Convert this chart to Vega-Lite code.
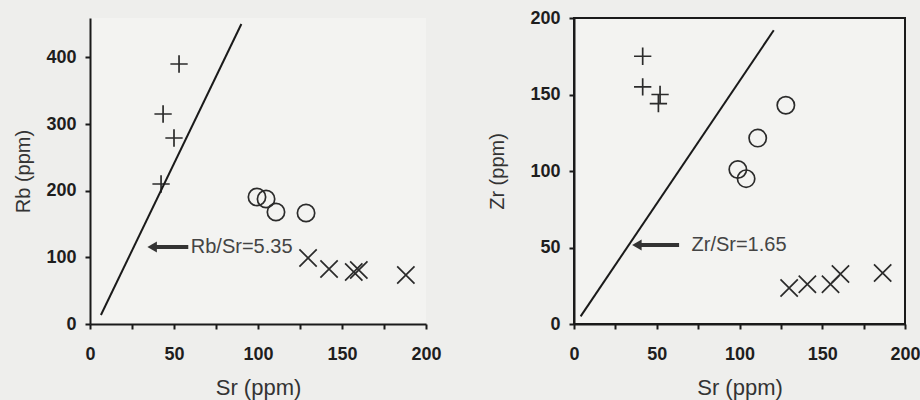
{
  "$schema": "https://vega.github.io/schema/vega-lite/v6.json",
  "background": "#eeeeec",
  "padding": {"left": 13, "top": 8, "right": 0, "bottom": 2},
  "bounds": "flush",
  "spacing": 148,
  "datasets": {
    "rb": [
      {"sr": 53, "rb": 390, "group": "G1"},
      {"sr": 43.5, "rb": 315, "group": "G1"},
      {"sr": 50, "rb": 279, "group": "G1"},
      {"sr": 42.3, "rb": 210, "group": "G1"},
      {"sr": 99.4, "rb": 190.5, "group": "G2"},
      {"sr": 104.8, "rb": 187.5, "group": "G2"},
      {"sr": 110.7, "rb": 168, "group": "G2"},
      {"sr": 128.6, "rb": 166.5, "group": "G2"},
      {"sr": 129.8, "rb": 99, "group": "G3"},
      {"sr": 142.3, "rb": 82.5, "group": "G3"},
      {"sr": 157, "rb": 78, "group": "G3"},
      {"sr": 160, "rb": 81, "group": "G3"},
      {"sr": 188, "rb": 73.5, "group": "G3"}
    ],
    "zr": [
      {"sr": 41.5, "zr": 175, "group": "G1"},
      {"sr": 41.5, "zr": 155, "group": "G1"},
      {"sr": 52, "zr": 150, "group": "G1"},
      {"sr": 51, "zr": 144, "group": "G1"},
      {"sr": 128, "zr": 143, "group": "G2"},
      {"sr": 111, "zr": 121.5, "group": "G2"},
      {"sr": 99, "zr": 101, "group": "G2"},
      {"sr": 104, "zr": 95, "group": "G2"},
      {"sr": 130, "zr": 23.5, "group": "G3"},
      {"sr": 141, "zr": 26, "group": "G3"},
      {"sr": 155, "zr": 26, "group": "G3"},
      {"sr": 161, "zr": 32.7, "group": "G3"},
      {"sr": 186.5, "zr": 33.3, "group": "G3"}
    ],
    "rbline": [{"sr": 6.5, "rb": 13.5}, {"sr": 90.1, "rb": 450}],
    "zrline": [{"sr": 4, "zr": 5}, {"sr": 120.7, "zr": 192}],
    "rbnote": [{"sr": 37, "sr2": 58.5, "rb": 115.5, "text_x": 60, "label": "Rb/Sr=5.35"}],
    "zrnote": [{"sr": 38, "sr2": 63.5, "zr": 51.6, "text_x": 71, "label": "Zr/Sr=1.65"}]
  },
  "config": {
    "view": {"fill": "#f3f3f1"},
    "axis": {
      "grid": false,
      "domainColor": "#1a1a1a",
      "domainWidth": 2,
      "tickColor": "#1a1a1a",
      "tickWidth": 2,
      "tickSize": 5,
      "labelFlush": false,
      "labelFont": "Liberation Sans",
      "labelFontWeight": "bold",
      "labelFontSize": 18,
      "labelColor": "#1e1e1e",
      "titleFont": "Liberation Sans",
      "titleFontWeight": "normal",
      "titleFontSize": 20,
      "titleColor": "#333333"
    },
    "axisY": {"labelPadding": 9, "titlePadding": 12},
    "axisX": {"labelPadding": 16, "titlePadding": 14, "titleFontSize": 22}
  },
  "hconcat": [
    {
      "width": 336,
      "height": 306,
      "view": {"stroke": null},
      "layer": [
        {
          "data": {"name": "rb"},
          "mark": {"type": "point", "filled": false, "size": 300, "strokeWidth": 1.7, "opacity": 1, "color": "#2b2b2b"},
          "encoding": {
            "x": {"field": "sr", "type": "quantitative", "title": "Sr (ppm)",
                  "scale": {"domain": [0, 200], "nice": false, "zero": false},
                  "axis": {"values": [0, 25, 50, 75, 100, 125, 150, 175, 200], "labelExpr": "datum.value % 50 === 0 ? datum.label : ''"}},
            "y": {"field": "rb", "type": "quantitative", "title": "Rb (ppm)",
                  "scale": {"domain": [0, 459], "nice": false},
                  "axis": {"values": [0, 50, 100, 150, 200, 250, 300, 350, 400], "labelExpr": "datum.value % 100 === 0 ? datum.label : ''"}},
            "shape": {"field": "group", "type": "nominal", "legend": null,
                      "scale": {"domain": ["G1", "G2", "G3"], "range": ["M-1,0L1,0M0,-1L0,1", "M1,0A1,1 0 1,1 -1,0A1,1 0 1,1 1,0Z", "M-1,-1L1,1M-1,1L1,-1"]}}
          }
        },
        {
          "data": {"name": "rbline"},
          "mark": {"type": "line", "color": "#1a1a1a", "strokeWidth": 2},
          "encoding": {"x": {"field": "sr", "type": "quantitative"}, "y": {"field": "rb", "type": "quantitative"}}
        },
        {
          "data": {"name": "rbnote"},
          "mark": {"type": "rule", "color": "#333333", "strokeWidth": 4},
          "encoding": {"x": {"field": "sr", "type": "quantitative"}, "x2": {"field": "sr2"}, "y": {"field": "rb", "type": "quantitative"}}
        },
        {
          "data": {"name": "rbnote"},
          "mark": {"type": "point", "shape": "triangle-left", "filled": true, "size": 120, "color": "#333333", "opacity": 1},
          "encoding": {"x": {"field": "sr", "type": "quantitative"}, "y": {"field": "rb", "type": "quantitative"}}
        },
        {
          "data": {"name": "rbnote"},
          "mark": {"type": "text", "align": "left", "baseline": "middle", "font": "Liberation Sans", "fontSize": 20, "color": "#444444"},
          "encoding": {"x": {"field": "text_x", "type": "quantitative"}, "y": {"field": "rb", "type": "quantitative"}, "text": {"field": "label"}}
        },
        {
          "mark": {"type": "rule", "color": "#1a1a1a", "strokeWidth": 2},
          "encoding": {"y": {"datum": 450, "type": "quantitative"}}
        },
        {
          "mark": {"type": "rule", "color": "#1a1a1a", "strokeWidth": 2},
          "encoding": {"x": {"datum": 200, "type": "quantitative"}, "y": {"datum": 0, "type": "quantitative"}, "y2": {"datum": 450}}
        }
      ]
    },
    {
      "width": 331,
      "height": 306,
      "view": {"stroke": "#1a1a1a", "strokeWidth": 2},
      "layer": [
        {
          "data": {"name": "zr"},
          "mark": {"type": "point", "filled": false, "size": 300, "strokeWidth": 1.7, "opacity": 1, "color": "#2b2b2b"},
          "encoding": {
            "x": {"field": "sr", "type": "quantitative", "title": "Sr (ppm)",
                  "scale": {"domain": [0, 200], "nice": false, "zero": false},
                  "axis": {"values": [0, 25, 50, 75, 100, 125, 150, 175, 200], "labelExpr": "datum.value % 50 === 0 ? datum.label : ''"}},
            "y": {"field": "zr", "type": "quantitative", "title": "Zr (ppm)",
                  "scale": {"domain": [0, 200], "nice": false},
                  "axis": {"values": [0, 25, 50, 75, 100, 125, 150, 175, 200], "labelExpr": "datum.value % 50 === 0 ? datum.label : ''", "titlePadding": 22}},
            "shape": {"field": "group", "type": "nominal", "legend": null,
                      "scale": {"domain": ["G1", "G2", "G3"], "range": ["M-1,0L1,0M0,-1L0,1", "M1,0A1,1 0 1,1 -1,0A1,1 0 1,1 1,0Z", "M-1,-1L1,1M-1,1L1,-1"]}}
          }
        },
        {
          "data": {"name": "zrline"},
          "mark": {"type": "line", "color": "#1a1a1a", "strokeWidth": 2},
          "encoding": {"x": {"field": "sr", "type": "quantitative"}, "y": {"field": "zr", "type": "quantitative"}}
        },
        {
          "data": {"name": "zrnote"},
          "mark": {"type": "rule", "color": "#333333", "strokeWidth": 4},
          "encoding": {"x": {"field": "sr", "type": "quantitative"}, "x2": {"field": "sr2"}, "y": {"field": "zr", "type": "quantitative"}}
        },
        {
          "data": {"name": "zrnote"},
          "mark": {"type": "point", "shape": "triangle-left", "filled": true, "size": 120, "color": "#333333", "opacity": 1},
          "encoding": {"x": {"field": "sr", "type": "quantitative"}, "y": {"field": "zr", "type": "quantitative"}}
        },
        {
          "data": {"name": "zrnote"},
          "mark": {"type": "text", "align": "left", "baseline": "middle", "font": "Liberation Sans", "fontSize": 20, "color": "#444444"},
          "encoding": {"x": {"field": "text_x", "type": "quantitative"}, "y": {"field": "zr", "type": "quantitative"}, "text": {"field": "label"}}
        }
      ]
    }
  ]
}
